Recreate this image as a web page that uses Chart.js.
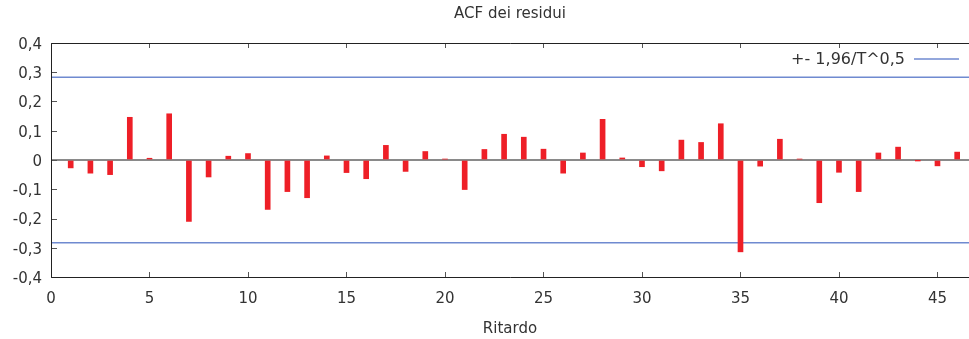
<!DOCTYPE html>
<html>
<head>
<meta charset="utf-8">
<script src="https://cdn.jsdelivr.net/npm/chart.js@4/dist/chart.umd.min.js"></script>
<style>
  html, body { margin: 0; padding: 0; background: #fff; }
  #wrap { width: 969px; height: 339px; position: relative; }
</style>
</head>
<body>
<div id="wrap"><canvas id="acf-chart"></canvas></div>
<script>
// Residual autocorrelations by lag
const lags = [1, 2, 3, 4, 5, 6, 7, 8, 9, 10, 11, 12, 13, 14, 15, 16, 17, 18, 19, 20, 21, 22, 23,
              24, 25, 26, 27, 28, 29, 30, 31, 32, 33, 34, 35, 36, 37, 38, 39, 40, 41, 42, 43, 44, 45, 46];
const acfValues = [-0.027, -0.045, -0.050, 0.146, 0.006, 0.158, -0.210, -0.058, 0.013, 0.022,
                   -0.169, -0.108, -0.129, 0.014, -0.043, -0.064, 0.050, -0.039, 0.029, 0.003,
                   -0.101, 0.036, 0.088, 0.078, 0.037, -0.045, 0.024, 0.139, 0.007, -0.023,
                   -0.037, 0.068, 0.060, 0.124, -0.314, -0.021, 0.071, 0.003, -0.146, -0.042,
                   -0.108, 0.024, 0.044, -0.001, -0.020, 0.027];
// Significance band: +- 1.96 / sqrt(T)
const bandValue = 0.283;
const bandLabel = '+- 1,96/T^0,5';
const xTicks = [0, 5, 10, 15, 20, 25, 30, 35, 40, 45];
const yTicks = [-0.4, -0.3, -0.2, -0.1, 0, 0.1, 0.2, 0.3, 0.4];
const xMax = 46.6;

const FONT = "'DejaVu Sans', Verdana, sans-serif";
const TEXT = '#333333';
const BLUE = '#6f8ad0';
const RED = '#ee1f27';

function fmtComma(v) {
    if (Math.abs(v) < 1e-9) return '0';
    return v.toFixed(1).replace('.', ',');
}

// Frame, inward ticks and in-plot legend
const framePlugin = {
    id: 'frame',
    afterDraw(chart) {
        const { ctx, chartArea: a, scales } = chart;
        const xs = scales.x, ys = scales.y;
        ctx.save();
        ctx.strokeStyle = '#555555';
        ctx.lineWidth = 1;
        ctx.beginPath();
        xTicks.forEach(v => {
            const px = Math.round(xs.getPixelForValue(v)) + 0.5;
            ctx.moveTo(px, a.top); ctx.lineTo(px, a.top + 5);
            ctx.moveTo(px, a.bottom); ctx.lineTo(px, a.bottom - 5);
        });
        yTicks.forEach(v => {
            const py = Math.round(ys.getPixelForValue(v)) + 0.5;
            ctx.moveTo(a.left, py); ctx.lineTo(a.left + 6, py);
        });
        ctx.stroke();

        ctx.strokeStyle = '#222222';
        ctx.beginPath();
        const l = Math.round(a.left) + 0.5, t = Math.round(a.top) + 0.5, b = Math.round(a.bottom) + 0.5;
        ctx.moveTo(a.right, t); ctx.lineTo(l, t); ctx.lineTo(l, b); ctx.lineTo(a.right, b);
        ctx.stroke();

        // legend entry for the band lines
        const ly = 60;
        ctx.font = '16px ' + FONT;
        ctx.fillStyle = TEXT;
        ctx.textAlign = 'right';
        ctx.textBaseline = 'middle';
        ctx.fillText(chart.data.datasets[1].label, 905, ly);
        ctx.strokeStyle = BLUE;
        ctx.lineWidth = 1.5;
        ctx.beginPath();
        ctx.moveTo(914, ly - 1); ctx.lineTo(959, ly - 1);
        ctx.stroke();
        ctx.restore();
    }
};

new Chart(document.getElementById('acf-chart'), {
    type: 'bar',
    data: {
        datasets: [{
            label: 'ACF',
            data: lags.map((x, i) => ({ x: x, y: acfValues[i] })),
            backgroundColor: RED,
            barThickness: 5,
            order: 1
        }, {
            type: 'line',
            label: bandLabel,
            data: [{ x: 0, y: bandValue }, { x: xMax, y: bandValue }],
            borderColor: BLUE,
            borderWidth: 1.5,
            pointRadius: 0,
            order: 2
        }, {
            type: 'line',
            label: bandLabel,
            data: [{ x: 0, y: -bandValue }, { x: xMax, y: -bandValue }],
            borderColor: BLUE,
            borderWidth: 1.5,
            pointRadius: 0,
            order: 2
        }]
    },
    options: {
        responsive: true,
        maintainAspectRatio: false,
        animation: false,
        layout: { padding: 0 },
        plugins: {
            legend: { display: false },
            tooltip: { enabled: false },
            title: {
                display: true,
                text: 'ACF dei residui',
                fullSize: false,
                color: TEXT,
                font: { family: FONT, size: 15, weight: 'normal' },
                padding: { top: 5, bottom: 20 }
            }
        },
        scales: {
            x: {
                type: 'linear',
                min: 0,
                max: xMax,
                offset: false,
                grid: { display: false, drawTicks: false },
                border: { display: false },
                afterBuildTicks: s => { s.ticks = xTicks.map(v => ({ value: v })); },
                afterFit: s => { s.height = 62; },
                ticks: {
                    color: TEXT,
                    padding: 13,
                    maxRotation: 0,
                    font: { family: FONT, size: 15 }
                },
                title: {
                    display: true,
                    text: 'Ritardo',
                    color: TEXT,
                    font: { family: FONT, size: 15 },
                    padding: { top: 4, bottom: 1 }
                }
            },
            y: {
                min: -0.4,
                max: 0.4,
                grid: {
                    drawTicks: false,
                    color: c => (c.tick && Math.abs(c.tick.value) < 1e-9) ? '#8a8a8a' : 'rgba(0,0,0,0)',
                    lineWidth: 2
                },
                border: { display: false },
                afterBuildTicks: s => { s.ticks = yTicks.map(v => ({ value: v })); },
                afterFit: s => { s.width = 51; },
                ticks: {
                    color: TEXT,
                    padding: 9,
                    labelOffset: 2,
                    font: { family: FONT, size: 15 },
                    callback: v => fmtComma(v)
                }
            }
        }
    },
    plugins: [framePlugin]
});
</script>
</body>
</html>
